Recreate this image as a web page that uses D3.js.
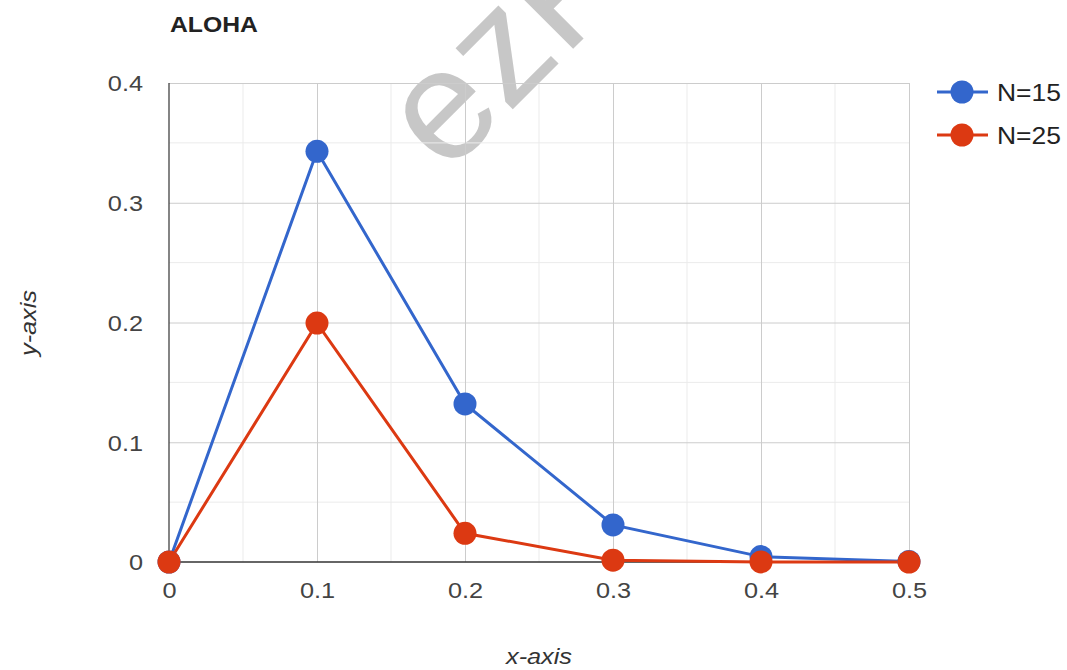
<!DOCTYPE html>
<html><head><meta charset="utf-8">
<script src="https://cdn.jsdelivr.net/npm/d3@7"></script>
<style>body{margin:0;background:#fff;font-family:'Liberation Sans',Arial,sans-serif}</style>
</head><body><svg id="c" width="1067" height="670"></svg>
<script>
const xValues = [0, 0.1, 0.2, 0.3, 0.4, 0.5];
const seriesNames = ["N=15", "N=25"];
const n15 = [0, 0.343, 0.132, 0.031, 0.0045, 0.0005];
const n25 = [0, 0.1995, 0.024, 0.0015, 0.0001, 0];
const xTicks = [0, 0.1, 0.2, 0.3, 0.4, 0.5];
const yTicks = [0, 0.1, 0.2, 0.3, 0.4];
const colors = ["#3366cc", "#dc3912"];

(function () {
const FONT = "'Liberation Sans',Arial,sans-serif";
const SX = 1.15;
const svg = d3.select("#c");
const pL = 169, pR = 909, pT = 83, pB = 562;
const x = d3.scaleLinear().domain([0, 0.5]).range([pL, pR]);
const y = d3.scaleLinear().domain([0, 0.4]).range([pB, pT]);

// watermark
svg.append("text").attr("transform", "translate(446,176) rotate(-45)")
  .attr("font-family", FONT).attr("font-size", 158)
  .attr("fill", "#8f8f8f").attr("fill-opacity", 0.5).text("ezPlot");

// minor gridlines
const minorX = d3.range(0.05, 0.5, 0.1), minorY = d3.range(0.05, 0.4, 0.1);
svg.append("g").selectAll("line").data(minorX).join("line")
  .attr("x1", d => x(d)).attr("x2", d => x(d)).attr("y1", pT).attr("y2", pB)
  .attr("stroke", "#ebebeb");
svg.append("g").selectAll("line").data(minorY).join("line")
  .attr("y1", d => y(d)).attr("y2", d => y(d)).attr("x1", pL).attr("x2", pR)
  .attr("stroke", "#ebebeb");
// major gridlines
svg.append("g").attr("transform", `translate(0,${pB})`)
  .call(d3.axisBottom(x).tickValues(xTicks.slice(1)).tickSize(-(pB - pT)).tickFormat(""))
  .call(g => g.select(".domain").remove())
  .call(g => g.selectAll("line").attr("stroke", "#cccccc"));
svg.append("g").attr("transform", `translate(${pL},0)`)
  .call(d3.axisLeft(y).tickValues(yTicks.slice(1)).tickSize(-(pR - pL)).tickFormat(""))
  .call(g => g.select(".domain").remove())
  .call(g => g.selectAll("line").attr("stroke", "#cccccc"));

// axis lines
svg.append("line").attr("x1", pL).attr("x2", pL).attr("y1", pT).attr("y2", pB).attr("stroke", "#333").attr("stroke-width", 1.2);
svg.append("line").attr("x1", pL).attr("x2", pR).attr("y1", y(0)).attr("y2", y(0)).attr("stroke", "#333").attr("stroke-width", 1.6);

const fmt = d => d === 0 ? "0" : d3.format(".1f")(d);
// tick labels
svg.append("g").attr("transform", `translate(0,${pB})`)
  .call(d3.axisBottom(x).tickValues(xTicks).tickSize(0).tickPadding(20).tickFormat(fmt))
  .call(g => g.select(".domain").remove())
  .call(g => g.selectAll("text").attr("font-family", FONT).attr("font-size", 22).attr("fill", "#444")
    .attr("transform", `scale(${SX},1)`));
svg.append("g").attr("transform", `translate(${pL},0)`)
  .call(d3.axisLeft(y).tickValues(yTicks).tickSize(0).tickFormat(fmt))
  .call(g => g.select(".domain").remove())
  .call(g => g.selectAll("text").attr("font-family", FONT).attr("font-size", 22).attr("fill", "#444")
    .attr("x", -26 / SX).attr("dy", "0.36em").attr("transform", `scale(${SX},1)`));

// title and axis titles
svg.append("text").attr("transform", `translate(170,32) scale(${SX},1)`).attr("font-family", FONT)
  .attr("font-weight", "bold").attr("font-size", 21.5).attr("fill", "#222").text("ALOHA");
svg.append("text").attr("transform", `translate(539,664) scale(${SX},1)`).attr("font-family", FONT)
  .attr("text-anchor", "middle").attr("font-style", "italic").attr("font-size", 22).attr("fill", "#333").text("x-axis");
svg.append("text").attr("transform", `translate(36,323) rotate(-90) scale(${SX},1)`).attr("font-family", FONT)
  .attr("text-anchor", "middle").attr("font-style", "italic").attr("font-size", 22).attr("fill", "#333").text("y-axis");

// series
const series = [n15, n25];
const line = d3.line().x((d, i) => x(xValues[i])).y(d => y(d));
series.forEach((s, k) => {
  svg.append("path").datum(s).attr("d", line).attr("fill", "none").attr("stroke", colors[k]).attr("stroke-width", 3);
});
series.forEach((s, k) => {
  svg.append("g").selectAll("circle").data(s).join("circle")
    .attr("cx", (d, i) => x(xValues[i])).attr("cy", d => y(d)).attr("r", 11.5).attr("fill", colors[k]);
});

// legend
seriesNames.forEach((name, k) => {
  const ly = 92 + k * 43;
  const g = svg.append("g");
  g.append("line").attr("x1", 937).attr("x2", 988).attr("y1", ly).attr("y2", ly).attr("stroke", colors[k]).attr("stroke-width", 3);
  g.append("circle").attr("cx", 962).attr("cy", ly).attr("r", 11.5).attr("fill", colors[k]);
  g.append("text").attr("transform", `translate(997,${ly + 9}) scale(${SX},1)`).attr("font-family", FONT)
    .attr("font-size", 23).attr("fill", "#222").text(name);
});
})();
</script></body></html>
